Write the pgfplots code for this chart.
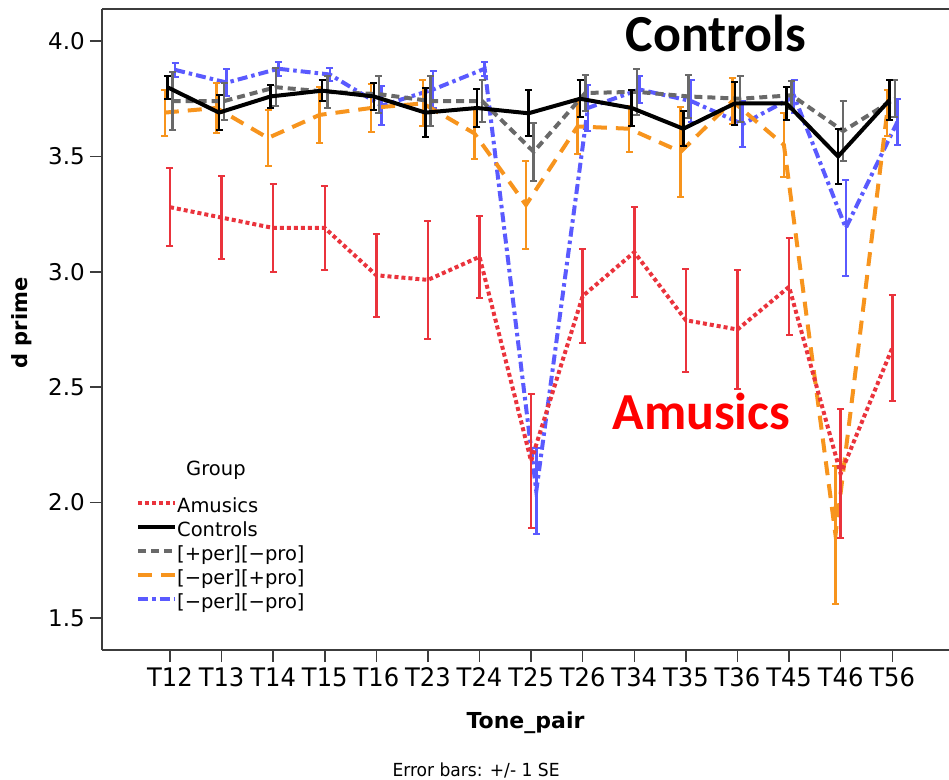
\documentclass[border=0pt]{standalone}
\usepackage{pgfplots}
\usepackage{pgfplotstable}
\pgfplotsset{compat=1.18}
\usepackage{fontspec}
\setmainfont{DejaVu Sans}
\newfontfamily\carlito{Carlito}
\newfontfamily\xfont[FakeStretch=0.95]{DejaVu Sans}

\definecolor{cRed}{RGB}{234,51,60}
\definecolor{cGray}{RGB}{105,105,105}
\definecolor{cOrange}{RGB}{247,148,29}
\definecolor{cBlue}{RGB}{90,90,255}
\definecolor{cAxis}{RGB}{60,60,60}

% Amusics (x = category index)
\pgfplotstableread{
x y e
0 3.28 0.17
1 3.235 0.18
2 3.19 0.19
3 3.19 0.18
4 2.985 0.18
5 2.965 0.255
6 3.065 0.177
7 2.18 0.29
8 2.895 0.205
9 3.085 0.196
10 2.79 0.224
11 2.75 0.26
12 2.935 0.21
13 2.125 0.28
14 2.67 0.23
}\amusics
% Controls
\pgfplotstableread{
x y e
-0.05 3.80 0.05
0.95 3.69 0.075
1.95 3.76 0.05
2.95 3.785 0.045
3.95 3.76 0.06
4.95 3.69 0.107
5.95 3.71 0.083
6.95 3.687 0.1
7.95 3.75 0.08
8.95 3.71 0.08
9.95 3.62 0.076
10.95 3.73 0.094
11.95 3.73 0.072
12.95 3.50 0.12
13.95 3.745 0.085
}\controls
% [+per][-pro]
\pgfplotstableread{
x y e
0.05 3.74 0.125
1.05 3.74 0.08
2.05 3.80 0.083
3.05 3.78 0.07
4.05 3.77 0.08
5.05 3.74 0.108
6.05 3.74 0.09
7.05 3.52 0.125
8.05 3.775 0.08
9.05 3.78 0.1
10.05 3.76 0.094
11.05 3.75 0.1
12.05 3.765 0.06
13.05 3.61 0.13
14.05 3.75 0.08
}\perpro
% [-per][+pro]
\pgfplotstableread{
x y e
-0.1 3.69 0.10
0.9 3.71 0.11
1.9 3.58 0.12
2.9 3.68 0.12
3.9 3.71 0.105
4.9 3.73 0.1
5.9 3.6 0.11
6.9 3.29 0.19
7.9 3.63 0.12
8.9 3.62 0.1
9.9 3.52 0.195
10.9 3.74 0.1
11.9 3.55 0.14
12.9 1.86 0.30
13.9 3.69 0.1
}\nperpro
% [-per][-pro]
\pgfplotstableread{
x y e
0.1 3.875 0.03
1.1 3.82 0.06
2.1 3.88 0.03
3.1 3.855 0.03
4.1 3.72 0.085
5.1 3.79 0.08
6.1 3.88 0.03
7.1 2.05 0.185
8.1 3.71 0.1
9.1 3.79 0.06
10.1 3.74 0.09
11.1 3.64 0.1
12.1 3.76 0.07
13.1 3.19 0.21
14.1 3.65 0.1
}\npernpro

\begin{document}
\begin{tikzpicture}
\useasboundingbox (-102bp,-130bp) rectangle (847bp,650bp);
\begin{axis}[
  at={(0,0)}, anchor=south west,
  width=847bp, height=641bp, scale only axis,
  xmin=-1.318, xmax=15.1,
  ymin=1.361, ymax=4.139,
  clip=false,
  axis x line*=bottom, axis y line*=left,
  axis line style={-, line width=1.5bp, cAxis},
  tick align=outside,
  major tick length=12bp,
  tick style={line width=1.5bp, cAxis},
  xtick={0,...,14},
  xticklabels={T12,T13,T14,T15,T16,T23,T24,T25,T26,T34,T35,T36,T45,T46,T56},
  ytick={1.5,2.0,2.5,3.0,3.5,4.0},
  /pgf/number format/fixed,
  /pgf/number format/fixed zerofill,
  /pgf/number format/precision=1,
  /pgf/number format/assume math mode=true,
  yticklabel style={font=\fontsize{23bp}{23bp}\selectfont, inner sep=0pt, anchor=east, xshift=-5bp},
  xticklabel style={font=\xfont\fontsize{25.5bp}{25.5bp}\selectfont, inner sep=0pt, anchor=base, yshift=-24bp},
  xlabel={Tone\_pair},
  ylabel={d prime},
  every axis x label/.style={at={(rel axis cs:0.5,0)}, anchor=base, yshift=-78bp, font=\bfseries\fontsize{22bp}{22bp}\selectfont},
  every axis y label/.style={at={(rel axis cs:-0.0885,0.51)}, rotate=90, anchor=base, font=\bfseries\fontsize{21bp}{21bp}\selectfont},
  reverse legend,
  legend cell align=left,
  legend image code/.code={\draw[#1] (0bp,7bp) -- (37bp,7bp);},
  legend style={at={(rel axis cs:0.0401,0.2376)}, anchor=north west, draw=none, fill=none, inner sep=0pt,
    font=\fontsize{19.5bp}{19.5bp}\selectfont,
    nodes={inner sep=0pt, text height=15bp, text depth=9bp},
    /tikz/every even column/.append style={column sep=6bp}},
  error bars/y dir=both, error bars/y explicit,
  error bars/error mark options={solid, rotate=90, mark size=3.5bp, line width=2bp},
]
\addplot[cBlue, line width=4bp, dash pattern=on 10bp off 4bp on 3.5bp off 4bp,
  error bars/error bar style={cBlue, solid, line width=2.5bp}] table[x=x, y=y, y error=e] {\npernpro};
\addlegendentry{[−per][−pro]}
\addplot[cOrange, line width=4bp, dash pattern=on 14bp off 9bp,
  error bars/error bar style={cOrange, solid, line width=2.5bp}] table[x=x, y=y, y error=e] {\nperpro};
\addlegendentry{[−per][+pro]}
\addplot[cGray, line width=4bp, dash pattern=on 8bp off 5bp,
  error bars/error bar style={cGray, solid, line width=2.5bp}] table[x=x, y=y, y error=e] {\perpro};
\addlegendentry{[+per][−pro]}
\addplot[black, line width=4bp,
  error bars/error bar style={black, solid, line width=2.5bp}] table[x=x, y=y, y error=e] {\controls};
\addlegendentry{Controls}
\addplot[cRed, line width=4bp, dash pattern=on 4bp off 3bp,
  error bars/error bar style={cRed, solid, line width=2.5bp}] table[x=x, y=y, y error=e] {\amusics};
\addlegendentry{Amusics}

\draw[cAxis, line width=1.5bp] (rel axis cs:0,1) -- (rel axis cs:1,1);
\node[anchor=base west, font=\fontsize{19.5bp}{19.5bp}\selectfont] at (rel axis cs:0.0953,0.2715) {Group};
\node[anchor=base, font=\carlito\fontsize{52bp}{52bp}\selectfont\bfseries] at (axis cs:10.58,3.954) {Controls};
\node[anchor=base, text=red, font=\carlito\fontsize{52bp}{52bp}\selectfont\bfseries] at (axis cs:10.30,2.318) {Amusics};
\node[anchor=base, font=\xfont\fontsize{18bp}{18bp}\selectfont] at (rel axis cs:0.4416,-0.1981) {Error bars: +/- 1 SE};
\end{axis}
\end{tikzpicture}
\end{document}
